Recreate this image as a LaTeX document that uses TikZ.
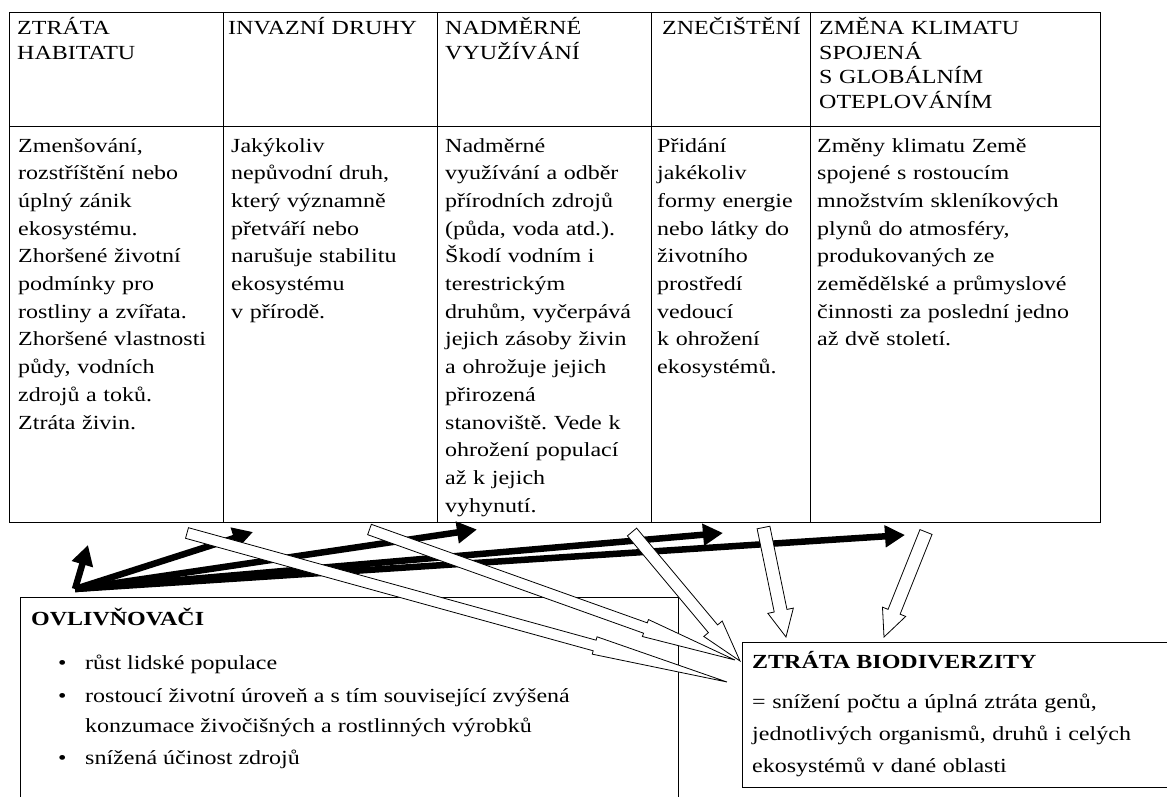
\documentclass[tikz,border=0pt]{standalone}
\usepackage{fontspec}
\setmainfont[FakeStretch=1.2]{Liberation Serif}
\usetikzlibrary{arrows.meta,calc}
\frenchspacing
\newcommand\blockarrow[5]{%
  \pgfpointdiff{\pgfpointanchor{#1}{center}}{\pgfpointanchor{#2}{center}}%
  \pgfgetlastxy{\bax}{\bay}%
  \pgfmathsetmacro\balen{veclen(\bax,\bay)}%
  \pgfmathsetmacro\baang{atan2(\bay,\bax)}%
  \pgfmathsetmacro\bahl{#5*\balen}%
  \begin{scope}[shift={(#1)}, rotate=\baang, x=1pt, y=1pt]
    \draw[blockarr] (0,-#3/2) -- (\balen-\bahl,-#3/2) -- (\balen-\bahl,-#4/2) -- (\balen,0)
      -- (\balen-\bahl,#4/2) -- (\balen-\bahl,#3/2) -- (0,#3/2) -- cycle;
  \end{scope}}
\begin{document}
\begin{tikzpicture}[x=1pt,y=-1pt,
  cell/.style={draw, line width=0.8pt, inner sep=0pt, outer sep=0pt, anchor=north west},
  hdr/.style={anchor=base west, inner sep=0pt, text width=400pt, align=left, font=\fontsize{20}{24.5}\selectfont\frenchspacing},
  body/.style={anchor=base west, inner sep=0pt, text width=400pt, align=left, font=\fontsize{20}{27.7}\selectfont\frenchspacing},
  plain/.style={anchor=base west, inner sep=0pt, font=\fontsize{20}{24}\selectfont},
  boldtitle/.style={anchor=base west, inner sep=0pt, font=\fontsize{20}{24}\selectfont\bfseries},
  blackarr/.style={line width=6.5pt, -{Triangle[length=20pt,width=21pt]}},
  blockarr/.style={draw=black, fill=white, line width=0.8pt, line join=miter}]
\useasboundingbox (0,0) rectangle (1167,796);
\clip (0,0) rectangle (1167,796);

% table
\node[cell, minimum width=214pt, minimum height=114pt] (hd1) at (9,12) {};
\node[cell, minimum width=214pt, minimum height=114pt] (hd2) at (223,12) {};
\node[cell, minimum width=214pt, minimum height=114pt] (hd3) at (437,12) {};
\node[cell, minimum width=159pt, minimum height=114pt] (hd4) at (651,12) {};
\node[cell, minimum width=290pt, minimum height=114pt] (hd5) at (810,12) {};
\node[cell, minimum width=214pt, minimum height=396pt] (c1) at (9,126) {};
\node[cell, minimum width=214pt, minimum height=396pt] (c2) at (223,126) {};
\node[cell, minimum width=214pt, minimum height=396pt] (c3) at (437,126) {};
\node[cell, minimum width=159pt, minimum height=396pt] (c4) at (651,126) {};
\node[cell, minimum width=290pt, minimum height=396pt] (c5) at (810,126) {};

\node[hdr] (ht1) at (17,34.5) {ZTRÁTA\\HABITATU};
\node[hdr] (ht2) at (228,34.5) {INVAZNÍ DRUHY};
\node[hdr] (ht3) at (445,34.5) {NADMĚRNÉ\\VYUŽÍVÁNÍ};
\node[hdr] (ht4) at (662,34.5) {ZNEČIŠTĚNÍ};
\node[hdr] (ht5) at (819,34.5) {ZMĚNA KLIMATU\\SPOJENÁ\\S GLOBÁLNÍM\\OTEPLOVÁNÍM};

\node[body] (bt1) at (18,152) {Zmenšování,\\rozstříštění nebo\\úplný zánik\\ekosystému.\\Zhoršené životní\\podmínky pro\\rostliny a zvířata.\\Zhoršené vlastnosti\\půdy, vodních\\zdrojů a toků.\\Ztráta živin.};
\node[body] (bt2) at (231,152) {Jakýkoliv\\nepůvodní druh,\\který významně\\přetváří nebo\\narušuje stabilitu\\ekosystému\\v přírodě.};
\node[body] (bt3) at (445,152) {Nadměrné\\využívání a odběr\\přírodních zdrojů\\(půda, voda atd.).\\Škodí vodním i\\terestrickým\\druhům, vyčerpává\\jejich zásoby živin\\a ohrožuje jejich\\přirozená\\stanoviště. Vede k\\ohrožení populací\\až k jejich\\vyhynutí.};
\node[body] (bt4) at (657,152) {Přidání\\jakékoliv\\formy energie\\nebo látky do\\životního\\prostředí\\vedoucí\\k ohrožení\\ekosystémů.};
\node[body] (bt5) at (817,152) {Změny klimatu Země\\spojené s rostoucím\\množstvím skleníkových\\plynů do atmosféry,\\produkovaných ze\\zemědělské a průmyslové\\činnosti za poslední jedno\\až dvě století.};

% boxes
\node[cell, minimum width=658pt, minimum height=240pt] (ovl) at (20,597) {};
\node[boldtitle] (ovlt) at (31,625) {OVLIVŇOVAČI};
\node[plain] (bu1) at (58,669) {•};
\node[plain] (l1) at (85,669) {růst lidské populace};
\node[plain] (bu2) at (58,702) {•};
\node[plain] (l2) at (85,702) {rostoucí životní úroveň a s tím související zvýšená};
\node[plain] (l3) at (85,732) {konzumace živočišných a rostlinných výrobků};
\node[plain] (bu3) at (58,764) {•};
\node[plain] (l4) at (85,764) {snížená účinost zdrojů};

\node[cell, minimum width=450pt, minimum height=145pt] (ztr) at (742,642) {};
\node[boldtitle] (ztrt) at (752,668) {ZTRÁTA BIODIVERZITY};
\node[body, font=\fontsize{20}{32}\selectfont] (ztrb) at (752,708) {= snížení počtu a úplná ztráta genů,\\jednotlivých organismů, druhů i celých\\ekosystémů v dané oblasti};

% black arrows
\coordinate (src) at (75,589);
\coordinate (t1) at (88,545);
\coordinate (t2) at (253,532);
\coordinate (t3) at (477,529.5);
\coordinate (t4) at (723,533);
\coordinate (t5) at (905,535);
\draw[blackarr] (src) -- (t1);
\draw[blackarr] (src) -- (t2);
\draw[blackarr] (src) -- (t3);
\draw[blackarr] (src) -- (t4);
\draw[blackarr] (src) -- (t5);

% white block arrows
\coordinate (w1s) at (187,533);   \coordinate (w1e) at (727,682);
\coordinate (w2s) at (369.5,529.5); \coordinate (w2e) at (735,660);
\coordinate (w3s) at (632,532);   \coordinate (w3e) at (740,661);
\coordinate (w4s) at (763.5,527.5); \coordinate (w4e) at (786,637);
\coordinate (w5s) at (926,532);   \coordinate (w5e) at (884,637);
\blockarrow{w1s}{w1e}{11}{18}{0.245}
\blockarrow{w2s}{w2e}{11}{18}{0.245}
\blockarrow{w3s}{w3e}{12}{24}{0.25}
\blockarrow{w4s}{w4e}{13}{26}{0.24}
\blockarrow{w5s}{w5e}{13}{25}{0.24}
\end{tikzpicture}
\end{document}
